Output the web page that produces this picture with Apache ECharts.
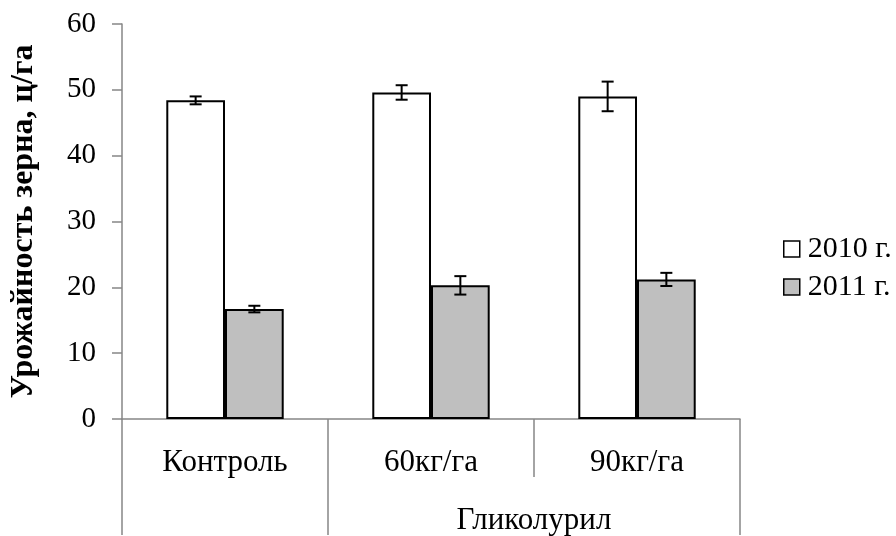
<!DOCTYPE html>
<html>
<head>
<meta charset="utf-8">
<script src="https://cdn.jsdelivr.net/npm/echarts@6/dist/echarts.min.js"></script>
<style>
html,body{margin:0;padding:0;background:#fff;}
#c{width:896px;height:536px;}
</style>
</head>
<body>
<div id="c"></div>
<script>
const categories = ['Контроль', '60кг/га', '90кг/га'];
const groupLabels = ['', '', '', '', 'Гликолурил', '', ''];
const seriesNames = ['2010 г.', '2011 г.'];
const values2010 = [48.4, 49.6, 49.0];
const values2011 = [16.7, 20.3, 21.2];
const errors2010 = [0.6, 1.1, 2.25];
const errors2011 = [0.5, 1.4, 1.0];
const yTicks = [0, 10, 20, 30, 40, 50, 60];

const FONT = "'Liberation Serif','Times New Roman',serif";
const BAR_GAP_PCT = 43;
const axisGray = '#868686';

function errorSeries(vals, errs, side) {
  return {
    type: 'custom',
    xAxisIndex: 0,
    yAxisIndex: 0,
    z: 10,
    silent: true,
    data: vals.map((v, i) => [i, v, errs[i]]),
    encode: { x: 0, y: 1 },
    renderItem: function (params, api) {
      const idx = api.value(0);
      const v = api.value(1);
      const e = api.value(2);
      const band = api.size([1, 0])[0];
      const barW = band * (1 - BAR_GAP_PCT / 100) / 2;
      const c = api.coord([idx, v]);
      const x = c[0] + side * barW / 2;
      const yt = api.coord([idx, v + e])[1];
      const yb = api.coord([idx, v - e])[1];
      const cap = 6;
      const st = { stroke: '#000', lineWidth: 2 };
      return {
        type: 'group',
        children: [
          { type: 'line', shape: { x1: x, y1: yt, x2: x, y2: yb }, style: st },
          { type: 'line', shape: { x1: x - cap, y1: yt, x2: x + cap, y2: yt }, style: st },
          { type: 'line', shape: { x1: x - cap, y1: yb, x2: x + cap, y2: yb }, style: st }
        ]
      };
    }
  };
}

const chart = echarts.init(document.getElementById('c'), null, { renderer: 'canvas' });
chart.setOption({
  animation: false,
  backgroundColor: '#fff',
  textStyle: { fontFamily: FONT },
  grid: { left: 119, right: 156, top: 24, bottom: 116, containLabel: false },
  legend: {
    data: seriesNames,
    orient: 'vertical',
    left: 778,
    top: 229,
    itemWidth: 16,
    itemHeight: 16,
    itemGap: 8,
    icon: 'rect',
    textStyle: { fontFamily: FONT, fontSize: 30, color: '#000', padding: [0, 0, 0, 3] },
    itemStyle: { borderColor: '#000', borderWidth: 1.5 }
  },
  xAxis: [
    {
      type: 'category',
      data: categories,
      position: 'bottom',
      boundaryGap: true,
      axisLine: { show: true, lineStyle: { color: axisGray, width: 1.5 } },
      axisTick: { show: true, length: 58, lineStyle: { color: axisGray, width: 1.5 } },
      axisLabel: { fontFamily: FONT, fontSize: 31, color: '#000', margin: 28 }
    },
    {
      type: 'category',
      data: groupLabels,
      position: 'bottom',
      boundaryGap: false,
      axisLine: { show: false },
      axisTick: {
        show: true,
        length: 116,
        interval: function (idx) { return idx === 0 || idx === 2 || idx === 6; },
        lineStyle: { color: axisGray, width: 1.5 }
      },
      axisLabel: {
        fontFamily: FONT, fontSize: 31, color: '#000', margin: 86,
        interval: function (idx) { return idx === 4; }
      },
      splitLine: { show: false }
    }
  ],
  yAxis: {
    type: 'value',
    min: yTicks[0],
    max: yTicks[yTicks.length - 1],
    interval: yTicks[1] - yTicks[0],
    name: 'Урожайность зерна, ц/га',
    nameLocation: 'middle',
    nameGap: 82,
    nameTextStyle: { fontFamily: FONT, fontSize: 32, fontWeight: 'bold', color: '#000' },
    axisLine: { show: true, lineStyle: { color: axisGray, width: 1.5 } },
    axisTick: { show: true, length: 10, inside: false, lineStyle: { color: axisGray, width: 1.5 } },
    axisLabel: { fontFamily: FONT, fontSize: 29, color: '#000', margin: 26 },
    splitLine: { show: false }
  },
  series: [
    {
      name: seriesNames[0],
      type: 'bar',
      xAxisIndex: 0,
      data: values2010,
      barGap: '0%',
      barCategoryGap: BAR_GAP_PCT + '%',
      itemStyle: { color: '#ffffff', borderColor: '#000', borderWidth: 2 }
    },
    {
      name: seriesNames[1],
      type: 'bar',
      xAxisIndex: 0,
      data: values2011,
      barGap: '0%',
      barCategoryGap: BAR_GAP_PCT + '%',
      itemStyle: { color: '#bfbfbf', borderColor: '#000', borderWidth: 2 }
    },
    errorSeries(values2010, errors2010, -1),
    errorSeries(values2011, errors2011, 1)
  ]
});
</script>
</body>
</html>
